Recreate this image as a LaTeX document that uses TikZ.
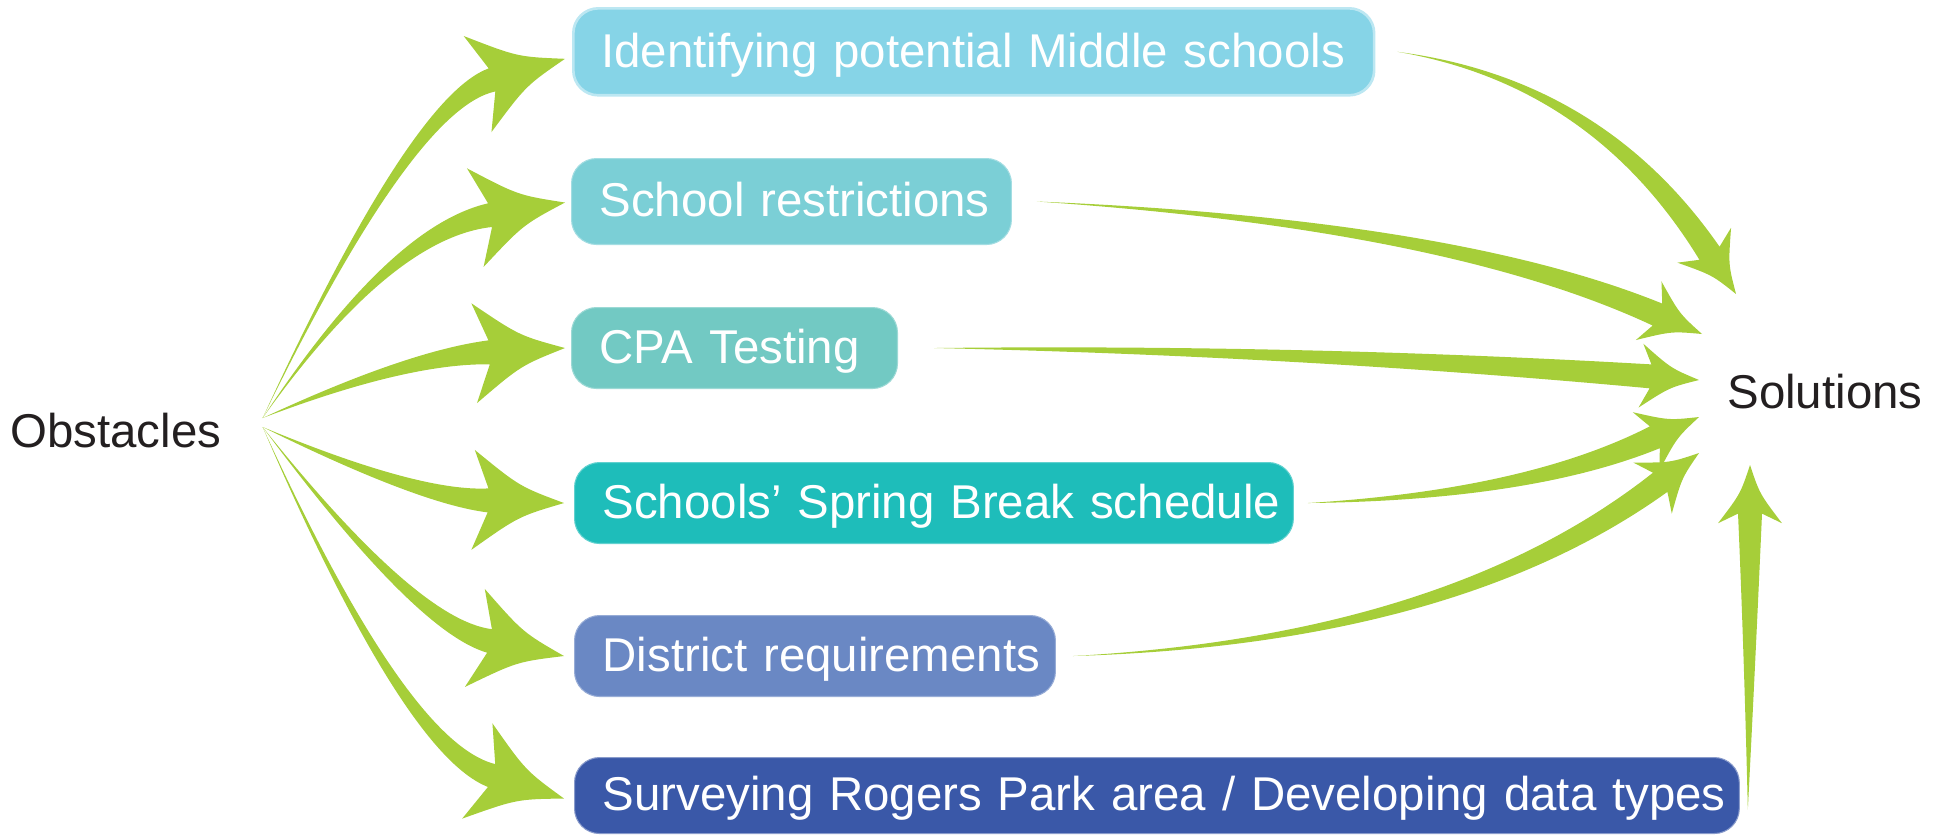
\documentclass[tikz,border=0pt]{standalone}
\usepackage{fontspec}
\setmainfont{Liberation Sans}
\usetikzlibrary{calc,positioning}
\definecolor{flowgreen}{HTML}{A6CE39}
\definecolor{inkdark}{HTML}{231F20}
\definecolor{boxa}{HTML}{86D4E7}
\definecolor{boxb}{HTML}{7BCFD6}
\definecolor{boxc}{HTML}{72C9C3}
\definecolor{boxd}{HTML}{1EBDBA}
\definecolor{boxe}{HTML}{6A88C4}
\definecolor{boxf}{HTML}{3A58A8}
\tikzset{
obox/.style = {anchor=north west, rounded corners=0.5cm, align=left, inner xsep=0.16cm, text=white, font=\fontsize{27}{32}\selectfont, text height=19.4pt, text depth=1.8pt, line width=0.6pt, execute at begin node=\hspace*{0.4cm}},
endtext/.style = {inner sep=0pt, anchor=base west, text=inkdark, font=\fontsize{27}{32}\selectfont},
flow/.style = {fill=flowgreen}
}
% swept arrow: [head scale]{start}{control}{tip}
\newcommand{\sweep}[4][1]{%
  \pgfmathsetlengthmacro{\hjoin}{#1*1.52cm}%
  \pgfmathsetlengthmacro{\hbarb}{#1*1.82cm}%
  \pgfmathsetlengthmacro{\hside}{#1*1.0cm}%
  \pgfmathsetlengthmacro{\hmid}{#1*0.9cm}%
  \pgfmathsetlengthmacro{\hbow}{#1*0.3cm}%
  \coordinate (jm) at ($(#4)!\hjoin!(#3)$);
  \coordinate (ja) at ($(jm)!0.24cm!90:(#4)$);
  \coordinate (jb) at ($(jm)!0.24cm!-90:(#4)$);
  \coordinate (bm) at ($(#4)!\hbarb!(#3)$);
  \coordinate (ba) at ($(bm)!\hside!90:(#4)$);
  \coordinate (bb) at ($(bm)!\hside!-90:(#4)$);
  \coordinate (hc) at ($(#4)!\hmid!(#3)$);
  \coordinate (ca) at ($(hc)!\hbow!90:(#4)$);
  \coordinate (cb) at ($(hc)!\hbow!-90:(#4)$);
  \coordinate (ua) at ($(#3)+0.25*(ja)-0.25*(jb)$);
  \coordinate (ub) at ($(#3)-0.25*(ja)+0.25*(jb)$);
  \fill[flow] (#2) .. controls ($(#2)!0.6667!(ua)$) and ($(ja)!0.6667!(ua)$) .. (ja) -- (ba)
    .. controls (ca) .. (#4) .. controls (cb) .. (bb) -- (jb)
    .. controls ($(jb)!0.6667!(ub)$) and ($(#2)!0.6667!(ub)$) .. (#2) -- cycle;
}

\begin{document}
\begin{tikzpicture}[x=0.02cm, y=-0.02cm]
    \useasboundingbox (0,0) rectangle (1946,836);
    % end labels
    \node[endtext] (obst) at (10,447) {Obstacles};
    \node[endtext] (sol) at (1727,408) {Solutions};
    % obstacle boxes
    \node[obox, fill=boxa, draw=boxa!55!white, line width=1.5pt, text width=15.70cm, minimum height=1.74cm] (b1) at (572,7) {Identifying potential Middle schools};
    \node[obox, fill=boxb, draw=boxb!70!white, text width=8.48cm, minimum height=1.72cm] (b2) at (571,158) {School restrictions};
    \node[obox, fill=boxc, draw=boxc!70!white, text width=6.20cm, minimum height=1.62cm] (b3) at (571,307) {CPA Testing};
    \node[obox, fill=boxd, draw=boxd!70!white, text width=14.06cm, minimum height=1.62cm] (b4) at (574,462) {Schools’ Spring Break schedule};
    \node[obox, fill=boxe, draw=boxe!70!white, text width=9.30cm, minimum height=1.62cm] (b5) at (574,615) {District requirements};
    \node[obox, fill=boxf, draw=boxf!60!white, text width=22.98cm, minimum height=1.52cm] (b6) at (574,757) {Surveying Rogers Park area / Developing data types};
    % start and end points
    \coordinate (sup) at ($(obst.base east)+(41,-29)$);
    \coordinate (sdn) at ($(obst.base east)+(41,-20)$);
    \coordinate (t1) at ($(b1.west)+(-7,7)$);
    \coordinate (t2) at ($(b2.west)+(-6,1)$);
    \coordinate (t3) at ($(b3.west)+(-6,0)$);
    \coordinate (t4) at ($(b4.west)+(-10,0)$);
    \coordinate (t5) at ($(b5.west)+(-10,0)$);
    \coordinate (t6) at ($(b6.west)+(-10,3)$);
    \coordinate (r1) at ($(b1.east)+(22,0)$);
    \coordinate (r2) at ($(b2.east)+(25,0)$);
    \coordinate (r3) at ($(b3.east)+(36,0)$);
    \coordinate (r4) at ($(b4.east)+(14,0)$);
    \coordinate (r5) at ($(b5.east)+(17,0)$);
    \coordinate (r6) at ($(b6.east)+(8,14)$);
    \coordinate (q1) at ($(sol.base west)+(9,-114)$);
    \coordinate (q2) at ($(sol.base west)+(-25,-74)$);
    \coordinate (q3) at ($(sol.base west)+(-28,-28)$);
    \coordinate (q4) at ($(sol.base west)+(-28,9)$);
    \coordinate (q5) at ($(sol.base west)+(-28,45)$);
    \coordinate (q6) at ($(sol.base west)+(23,57)$);
    % bends
    \coordinate (k1) at (412,103);
    \coordinate (k2) at (390,232);
    \coordinate (k3) at (407,357);
    \coordinate (k4) at (419,498);
    \coordinate (k5) at (416,626);
    \coordinate (k6) at (405,748);
    \coordinate (m1) at (1598,82);
    \coordinate (m2) at (1450,224);
    \coordinate (m3) at (1300,350);
    \coordinate (m4) at (1529,495);
    \coordinate (m5) at (1451,640);
    \coordinate (m6) at (1750,650);
    % obstacles to boxes
    \sweep{sup}{k1}{t1}
    \sweep{sup}{k2}{t2}
    \sweep{sup}{k3}{t3}
    \sweep{sdn}{k4}{t4}
    \sweep{sdn}{k5}{t5}
    \sweep{sdn}{k6}{t6}
    % boxes to solutions
    \sweep[0.64]{r1}{m1}{q1}
    \sweep[0.64]{r2}{m2}{q2}
    \sweep[0.64]{r3}{m3}{q3}
    \sweep[0.64]{r4}{m4}{q4}
    \sweep[0.64]{r5}{m5}{q5}
    \sweep[0.64]{r6}{m6}{q6}
\end{tikzpicture}
\end{document}
